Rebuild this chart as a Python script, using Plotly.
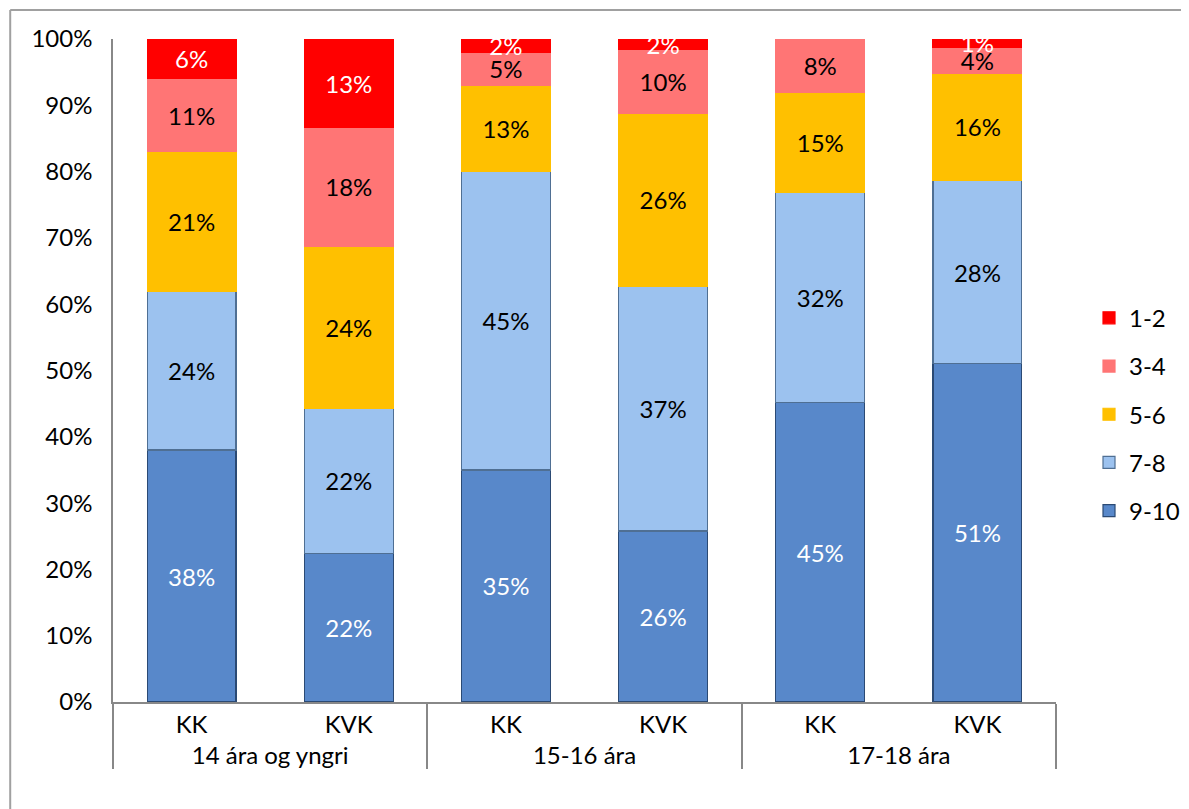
import plotly.graph_objects as go

groups = ["14 ára og yngri", "14 ára og yngri", "15-16 ára", "15-16 ára", "17-18 ára", "17-18 ára"]
subcats = ["KK", "KVK", "KK", "KVK", "KK", "KVK"]

s9_10 = [38, 22.4, 35, 25.8, 45.2, 51]
s7_8 = [24, 21.9, 45, 36.9, 31.6, 27.7]
s5_6 = [21, 24.4, 13, 26.1, 15.1, 16.1]
s3_4 = [11, 18.0, 5, 9.6, 8.1, 4.0]
s1_2 = [6, 13.3, 2, 1.6, None, 1.2]

series = [
    ("9-10", s9_10, "#5888CA", "#2B4A74", "white", 5),
    ("7-8", s7_8, "#9CC2EF", "#4F6F93", "black", 4),
    ("5-6", s5_6, "#FFC000", "#FFC000", "black", 3),
    ("3-4", s3_4, "#FF7575", "#FF7575", "black", 2),
    ("1-2", s1_2, "#FF0000", "#FF0000", "white", 1),
]

FONT = "Lato, 'Open Sans', sans-serif"
FS = 24
fig = go.Figure()
for name, vals, col, lcol, tcol, rank in series:
    fig.add_trace(go.Bar(
        x=[groups, subcats], y=vals, name=name,
        marker=dict(color=col, line=dict(color=lcol, width=1.2)),
        texttemplate="%{y:.0f}%", textposition="inside",
        insidetextanchor="middle", constraintext="none",
        textfont=dict(color=tcol, size=FS, family=FONT),
        legendgroup=name, legendrank=rank,
    ))

fig.update_layout(
    barmode="stack", bargap=0.435,
    width=1189, height=809,
    margin=dict(l=105, r=139, t=31, b=115),
    paper_bgcolor="white", plot_bgcolor="white",
    font=dict(family=FONT, size=FS, color="black"),
    uniformtext=dict(minsize=FS, mode="show"),
    showlegend=True,
    legend=dict(traceorder="grouped", x=1.035, y=0.434, yanchor="middle", xanchor="left",
                tracegroupgap=14, font=dict(size=FS), itemwidth=30, bgcolor="rgba(0,0,0,0)"),
    shapes=[
        dict(type="line", xref="paper", yref="paper", x0=-0.109, x1=1.16, y0=1.0437, y1=1.0437,
             line=dict(color="#A0A0A0", width=2)),
        dict(type="line", xref="paper", yref="paper", x0=-0.109, x1=-0.109, y0=1.0437, y1=-0.2,
             line=dict(color="#A0A0A0", width=2)),
    ],
)
fig.update_yaxes(range=[0, 100], dtick=10, ticksuffix="%", showgrid=False, zeroline=False,
                 showline=True, linecolor="#888888", linewidth=1.5, ticks="", ticklen=0,
                 ticklabelstandoff=14, tickfont=dict(size=FS))
fig.update_xaxes(showline=True, linecolor="#888888", linewidth=1.5, showgrid=False,
                 showdividers=True, dividercolor="#888888", dividerwidth=1.5,
                 tickfont=dict(size=FS), ticks="")
fig.write_html("out.html")
